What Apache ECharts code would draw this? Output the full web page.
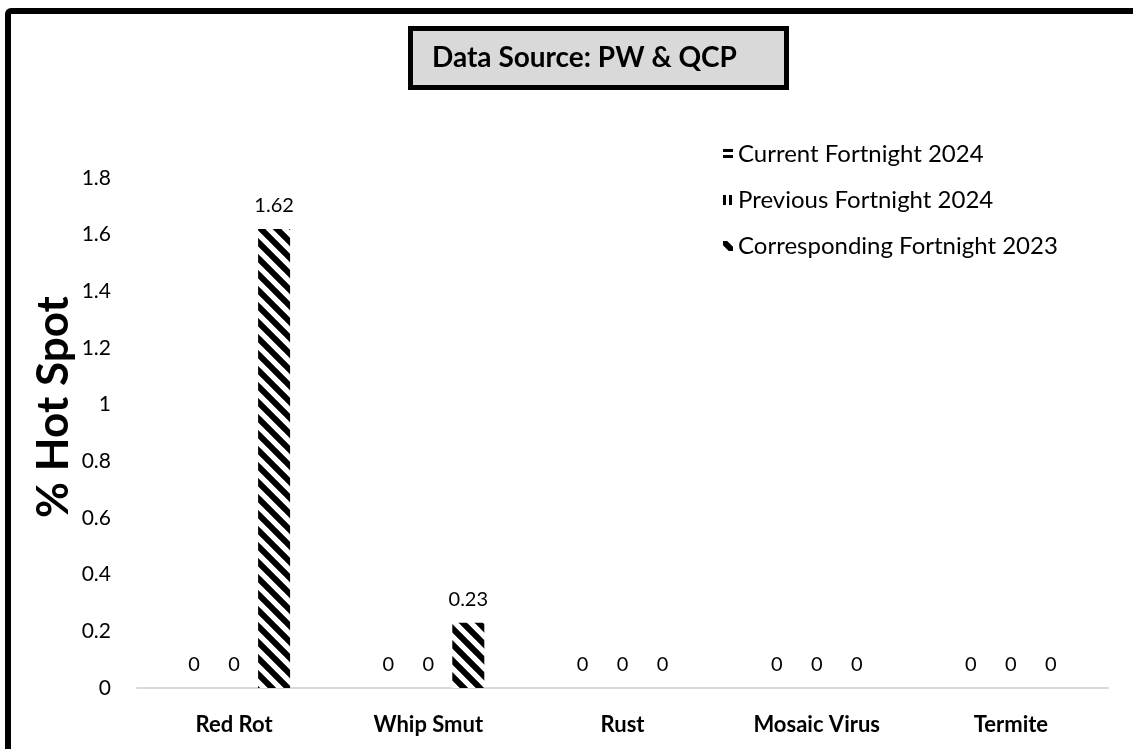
<!DOCTYPE html>
<html>
<head>
<meta charset="utf-8">
<script src="https://cdn.jsdelivr.net/npm/echarts@6/dist/echarts.min.js"></script>
<style>html,body{margin:0;padding:0;background:#fff;}#main{width:1133px;height:749px;}</style>
</head>
<body>
<div id="main"></div>
<script>
const categories = ['Red Rot', 'Whip Smut', 'Rust', 'Mosaic Virus', 'Termite'];
const seriesNames = ['Current Fortnight 2024', 'Previous Fortnight 2024', 'Corresponding Fortnight 2023'];
const currentFortnight2024 = [0, 0, 0, 0, 0];
const previousFortnight2024 = [0, 0, 0, 0, 0];
const correspondingFortnight2023 = [1.62, 0.23, 0, 0, 0];
const yTicks = [0, 0.2, 0.4, 0.6, 0.8, 1, 1.2, 1.4, 1.6, 1.8];

const FONT = 'Lato';

function makePattern(kind) {
  const c = document.createElement('canvas');
  const s = kind === 'diag' ? 16 : 6;
  c.width = s; c.height = s;
  const g = c.getContext('2d');
  g.fillStyle = '#fff';
  g.fillRect(0, 0, s, s);
  g.fillStyle = '#000';
  g.strokeStyle = '#000';
  if (kind === 'h') {
    g.fillRect(0, 0, s, 3);
  } else if (kind === 'v') {
    g.fillRect(0, 0, 3, s);
  } else {
    g.lineWidth = 6;
    g.beginPath();
    for (let k = -1; k <= 1; k++) {
      g.moveTo(k * s - 2, -2);
      g.lineTo(k * s + s + 2, s + 2);
    }
    g.stroke();
  }
  return { image: c, repeat: 'repeat' };
}

const patterns = [makePattern('h'), makePattern('v'), makePattern('diag')];
const dataSets = [currentFortnight2024, previousFortnight2024, correspondingFortnight2023];

const chart = echarts.init(document.getElementById('main'), null, { renderer: 'canvas' });
chart.setOption({
  animation: false,
  backgroundColor: '#fff',
  title: {
    text: 'Data Source: PW & QCP',
    left: 410,
    top: 28,
    backgroundColor: '#d9d9d9',
    borderColor: '#000',
    borderWidth: 5,
    padding: [16, 50, 16, 22],
    textStyle: { fontFamily: FONT, fontWeight: 'bold', fontSize: 28, lineHeight: 28, color: '#000' }
  },
  legend: {
    orient: 'vertical',
    left: 718,
    top: 137,
    itemWidth: 10,
    itemHeight: 10,
    itemGap: 22,
    icon: 'rect',
    textStyle: { fontFamily: FONT, fontSize: 24, lineHeight: 24, color: '#000' },
    data: seriesNames
  },
  grid: { left: 137, right: 25, top: 178, bottom: 61 },
  xAxis: {
    type: 'category',
    data: categories,
    axisLine: { show: true, lineStyle: { color: '#d9d9d9', width: 2 } },
    axisTick: { show: false },
    axisLabel: { fontFamily: FONT, fontWeight: 'bold', fontSize: 22, color: '#000', margin: 26 }
  },
  yAxis: {
    type: 'value',
    min: 0,
    max: 1.8,
    interval: 0.2,
    name: '% Hot Spot',
    nameLocation: 'middle',
    nameGap: 61,
    nameMoveOverlap: false,
    nameTextStyle: {
      fontFamily: FONT, fontWeight: 'bold', fontSize: 44, color: '#000',
      padding: [0, 0, 0, 52]
    },
    axisLine: { show: false },
    axisTick: { show: false },
    splitLine: { show: false },
    axisLabel: {
      fontFamily: FONT, fontSize: 21, color: '#000', margin: 26,
      formatter: function (v) { return String(Math.round(v * 10) / 10); }
    }
  },
  series: seriesNames.map(function (name, i) {
    return {
      name: name,
      type: 'bar',
      data: dataSets[i],
      barWidth: 32,
      barGap: '25%',
      itemStyle: { color: patterns[i] },
      label: {
        show: true,
        position: 'top',
        distance: 13,
        fontFamily: FONT,
        fontSize: 20,
        color: '#000'
      }
    };
  }),
  graphic: [{
    type: 'rect',
    shape: { x: 8, y: 11, width: 1300, height: 1000, r: 3 },
    style: { fill: 'none', stroke: '#000', lineWidth: 6 },
    silent: true,
    z: 100
  }]
});
</script>
</body>
</html>
